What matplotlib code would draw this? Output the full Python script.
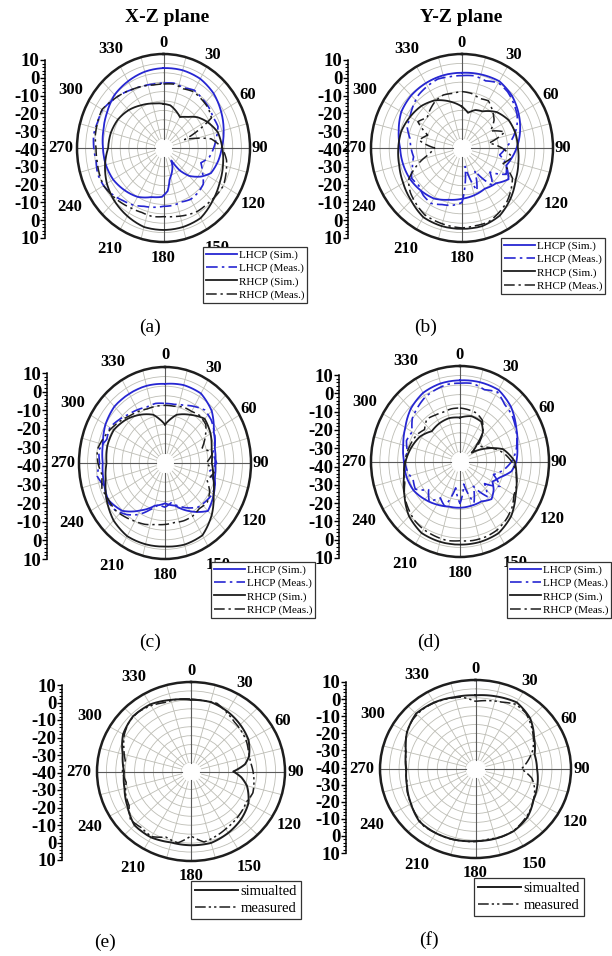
import numpy as np
import matplotlib
matplotlib.use('Agg')
import matplotlib.pyplot as plt
from matplotlib.ticker import MultipleLocator

W, H = 612, 956
SERIF = 'Liberation Serif'

# ---------------- data (dB vs angle in degrees) ----------------
# (a) X-Z plane
A_LS_DEG = [0, 15, 30, 45, 60, 75, 90, 102, 116, 125, 135, 142, 146, 152, 160, 168, 174, 182,
            195, 210, 225, 240, 255, 270, 285, 300, 315, 330, 345]
A_LS_DB = [2.5, 2.8, 2.5, 1, -1.5, -4, -6.3, -7.6, -9.5, -13.5, -19, -25, -32, -29, -26, -23, -17, -14,
           -13, -10, -8.2, -6.4, -5.5, -5, -4, -2.3, 0, 1, 2]
A_LM_DEG = [0, 10, 20, 30, 40, 50, 60, 70, 80, 90, 100, 110, 120, 130, 140, 150, 160, 170, 180,
            190, 200, 210, 220, 230, 240, 250, 260, 270, 280, 290, 300, 310, 320, 330, 340, 350]
A_LM_DB = [-5.5, -5, -6, -4.5, -5.5, -6, -7, -6.5, -9, -11, -13, -17, -14, -10, -9, -8.5, -9.5, -9, -9,
           -8, -7, -5, -3.5, -1.5, 0, 0.5, -0.5, 0.3, 1, 0.5, 0.8, -1, -2.5, -4, -5, -5.5]
A_RS_DEG = [0, 10, 20, 30, 40, 50, 60, 75, 90, 105, 120, 135, 150, 165, 180, 195, 210, 225, 240,
            255, 270, 285, 300, 315, 330, 345]
A_RS_DB = [-16.5, -17, -19, -21, -18.5, -14.5, -11.5, -7.5, -6, -4.4, -2.6, 0, 3, 3.5, 3.6, 3.5, 1.8, 0, -2.2,
           -5, -8, -8.5, -9.6, -11.5, -13.8, -15.5]
A_RM_DEG = [0, 10, 20, 30, 40, 50, 60, 65, 70, 75, 80, 90, 100, 110, 120, 130, 140, 150, 160, 170, 180,
            190, 200, 210, 220, 230, 240, 250, 260, 270, 280, 290, 300, 310, 320, 330, 340, 350]
A_RM_DB = [-6, -5.5, -6.5, -5.4, -6, -6.5, -8, -18, -27, -20, -12, -6, -3, -1.5, 0, -0.5, -1, -1, -2, -3, -3.5,
           -3, -3.5, -3, -2, -1, 0, -0.5, -1, -1, 0, 0.5, 1, -1, -2.5, -4, -5, -6]

# (b) Y-Z plane
B_LS_DEG = [0, 15, 30, 45, 60, 75, 90, 100, 111, 123, 135, 150, 165, 180, 195, 210, 225, 240, 255,
            270, 285, 300, 315, 330, 345]
B_LS_DB = [0, 0.5, 1, -1, -4, -7, -10, -12, -14, -9.5, -13.5, -15, -14, -13, -11.5, -9, -8, -7, -6.5,
           -6, -4, -1.5, -0.5, -0.2, 0]
B_LM_DEG = A_LM_DEG
B_LM_DB = [-1.5, -1, -2, 0, -1, -3, -5, -8, -12, -16, -19, -14, -12, -20, -14, -26, -16, -30, -11,
           -9, -8, -6, -7, -9, -8, -11, -13, -12, -11, -8, -7, -5, -3, -2, -1, -1.5]
B_RS_DEG = [0, 10, 20, 30, 45, 60, 75, 90, 105, 120, 135, 150, 165, 180, 195, 210, 225, 240, 255,
            270, 285, 300, 315, 330, 345]
B_RS_DB = [-18, -21, -18.5, -17.5, -13, -10.4, -9.6, -9.3, -8, -6, -2.2, 1.5, 3, 3, 3, 2.5, -0.5, -2.7, -4.3,
           -5, -5.5, -7, -8.4, -10.7, -14.4]
B_RM_DEG = A_LM_DEG
B_RM_DB = [-10, -10.5, -12, -11, -14, -17, -22, -15, -25, -18, -12, -16, -8, -5, -2, 0, 2, 2, 2.5,
           2, 1.5, 1, -1, -3, -6, -14, -22, -25, -16, -20, -12, -15, -13, -11, -10, -10.5]

# (c) X-Z plane
C_LS_DEG = [0, 15, 30, 45, 60, 75, 90, 105, 120, 135, 150, 165, 180, 195, 210, 225, 240, 255, 270,
            285, 300, 315, 330, 345]
C_LS_DB = [1.2, 2, 1.8, -1.6, -7.3, -10, -10.9, -10, -7.3, -4.7, -11, -17, -19, -17, -11.5, -4.8, -1.8, -3.1, -3.8,
           -2.6, 0, 1.6, 1.6, 1.6]
C_LM_DEG = A_LM_DEG
C_LM_DB = [-9, -9, -8, -6, -4, -5, -7, -9, -12, -10, -14, -9, -8, -9, -10, -13, -16, -19, -17,
           -18, -14, -9, -5, -2, -1, -3, 0, -2, -1, -4, -3, -5, -7, -8, -9, -8.5]
C_RS_DEG = [0, 9, 15, 30, 45, 60, 75, 90, 105, 120, 135, 150, 165, 180, 195, 210, 225, 240, 255,
            270, 285, 300, 315, 330, 345, 351]
C_RS_DB = [-20, -16.5, -14, -11, -7.4, -9.4, -12, -12.8, -11, -7.4, -1.6, 3.5, 4, 3.5, 3.8, 4, 2.3, -0.9, -4.3,
           -6, -5.3, -5.6, -8, -11, -14, -16.5]
C_RM_DEG = A_LM_DEG
C_RM_DB = [-10, -10, -9, -9, -8, -9, -13, -17, -12, -16, -11, -14, -10, -8, -9, -8, -8, -8.5, -8,
           -7.5, -6, -5, -3.5, -2, -2, -1, -3, -1, 0, -2, -4, -6, -8, -9, -10, -10]

# (d) Y-Z plane
D_LS_DEG = [0, 15, 30, 45, 60, 75, 90, 100, 110, 120, 128, 138, 150, 165, 180, 195, 210, 225, 240,
            255, 270, 285, 300, 315, 330, 345]
D_LS_DB = [2.5, 3, 3.3, 0.5, -3.6, -6.7, -8.3, -10.6, -16, -19, -16, -13.5, -15.9, -16, -15.8, -15.6, -14, -12, -9.8,
           -8.9, -8.5, -7, -4.5, -0.9, 1.5, 2.3]
D_LM_DEG = A_LM_DEG
D_LM_DB = [1, 1.5, 0, 2, -1, -2, -4, -6, -8, -11, -15, -20, -14, -22, -16, -25, -17, -28, -18,
           -26, -15, -18, -13, -17, -11, -12, -10, -9, -10, -8, -9, -5, -3, -1, 0, 1]
D_RS_DEG = [0, 15, 30, 40, 47, 55, 65, 75, 90, 105, 120, 135, 150, 165, 180, 195, 210, 225, 240,
            255, 270, 285, 300, 315, 330, 345]
D_RS_DB = [-17, -15.4, -16, -20, -27, -32, -24, -15, -9.2, -7.2, -4, 0.6, 3.3, 3.6, 3.5, 3.5, 3.2, 0.5, -4,
           -7.4, -9.4, -11.7, -14, -17.6, -16.9, -16.5]
D_RM_DEG = A_LM_DEG
D_RM_DB = [-12, -12.5, -13, -15, -20, -27, -25, -20, -15, -11, -8, -6, -5, -2, 0, 1.5, 2, 2, 1.5,
           2, 1.5, 1, 0, -2, -4, -7, -8, -9, -10, -11, -12, -14, -11, -12, -12.5, -12]

# (e) X-Z plane, co-pol only
E_S_DEG = [0, 15, 30, 45, 60, 75, 82, 90, 97, 105, 120, 135, 150, 165, 180, 195, 210, 225, 240,
           255, 270, 285, 300, 315, 330, 345]
E_S_DB = [0, 0.2, -1.3, -3, -4.7, -8.1, -11, -17.5, -13, -9.2, -4.7, -2.3, -0.4, 1.3, 1.2, 1, 2.5, 2.5, -1,
          -3.4, -4.4, -2.4, 1.7, 3.6, 3.3, 1.4]
E_M_DEG = A_LM_DEG
E_M_DB = [0.5, 0, 0.5, -2, -4, -5, -6, -7.5, -8, -7, -6, -5, -6, -5, -4, -3, -1.5, 0, -4,
          0.5, -1, 2, 1, 2, -2, -3, -5, -3.5, -4.5, -2, 1, 3, 3.5, 2.5, 1, 1]

# (f) Y-Z plane, co-pol only
F_S_DEG = [0, 15, 30, 45, 60, 75, 90, 105, 120, 135, 150, 165, 180, 195, 210, 225, 240, 255, 270,
           285, 300, 315, 330, 345]
F_S_DB = [1.4, 2.2, 3.2, 0.4, -4.6, -8, -7.8, -6.4, -5, -1.6, 0.2, 0.5, 0.5, 1.2, 1.6, 1.6, -1, -2.9, -3.8,
          -2.3, 1.4, 4, 3.2, 1.8]
F_M_DEG = A_LM_DEG
F_M_DB = [-2, -1, 0, 2, 1, -2, -5, -8, -12, -16, -10, -7, -5, -3, -1.5, 0, 0.5, 0, 0.8,
          1, 1.5, 1.5, 2, 0.5, -1, -2, -3.5, -3.5, -3, -1, 1.5, 3, 3.5, 3, 2, 1]

THETA_TICKS = [0, 30, 60, 90, 120, 150, 180, 210, 240, 270, 300, 330]
SCALE_LABELS = ['10', '0', '-10', '-20', '-30', '-40', '-30', '-20', '-10', '0', '10']
CP_LABELS = ['LHCP (Sim.)', 'LHCP (Meas.)', 'RHCP (Sim.)', 'RHCP (Meas.)']
CO_LABELS = ['simualted', 'measured']

BLUE = '#2626d2'
BLACK = '#1e1e1e'
DASHDOT = (0, (7, 2.5, 1.5, 2.5))
DASHDOTDOT = (0, (7, 2, 1.5, 2, 1.5, 2))

# radial position of each angle label (dB units, outside the 10 dB ring)
LAB_R = {0: 16, 30: 17, 60: 16.5, 90: 15.5, 120: 20, 150: 21.5, 180: 18.5,
         210: 22, 240: 22.5, 270: 19.5, 300: 22, 330: 21}


def closed(deg, db):
    d = np.deg2rad(np.array(list(deg) + [deg[0] + 360]))
    return d, np.array(list(db) + [db[0]])


def rect(x0, y0, x1, y1):
    return [x0 / W, 1 - y1 / H, (x1 - x0) / W, (y1 - y0) / H]


fig = plt.figure(figsize=(W / 100, H / 100), dpi=100)


def panel(circ, scale_x, scale_y, legend_xy, curves, labels, leg_size, hlen):
    ax = fig.add_axes(rect(*circ), projection='polar')
    ax.set_aspect('auto')
    ax.set_theta_zero_location('N')
    ax.set_theta_direction(-1)
    ax.set_rlim(-40, 10)
    ax.set_yticks(np.arange(-35, 10, 5))
    ax.set_yticklabels([])
    ax.set_xticks(np.deg2rad(np.arange(0, 360, 15)))
    ax.set_xticklabels([])
    ax.tick_params(length=0)
    ax.grid(True, color='#bdbdb5', lw=0.6)
    ax.spines['polar'].set_linewidth(1.8)
    ax.spines['polar'].set_color(BLACK)
    ring = np.linspace(0, 2 * np.pi, 200)
    ax.fill_between(ring, -40, -35, color='white', zorder=1.7)
    for a in (0, 90, 180, 270):
        ax.plot([np.deg2rad(a)] * 2, [-35, 10], color='#5a5a5a', lw=0.8, zorder=1.8)

    handles = []
    for (deg, db, col, ls, lw) in curves:
        t, r = closed(deg, db)
        ln, = ax.plot(t, r, color=col, ls=ls, lw=lw, zorder=3)
        # let the polar transform draw each segment as a smooth arc
        ln.get_path()._interpolation_steps = 24
        handles.append(ln)

    for a in THETA_TICKS:
        ax.text(np.deg2rad(a), LAB_R[a], str(a), ha='center', va='center', fontsize=12,
                fontweight='bold', family=SERIF, clip_on=False)

    # left dB scale
    sy0, sy1 = scale_y
    sax = fig.add_axes(rect(scale_x, sy0, scale_x + 1, sy1))
    sax.set_ylim(-50, 50)
    sax.set_xticks([])
    for s in ('top', 'right', 'bottom'):
        sax.spines[s].set_visible(False)
    sax.spines['left'].set_linewidth(1.1)
    sax.set_yticks(np.arange(50, -51, -10))
    sax.set_yticklabels(SCALE_LABELS, fontsize=13.5, fontweight='bold', family=SERIF)
    sax.yaxis.set_minor_locator(MultipleLocator(2))
    sax.tick_params(axis='y', which='major', length=3.5, width=1, pad=0.5)
    sax.tick_params(axis='y', which='minor', length=2, width=0.8)
    sax.patch.set_alpha(0)

    leg = fig.legend(handles, labels, loc='upper left',
                     bbox_to_anchor=(legend_xy[0] / W, 1 - legend_xy[1] / H),
                     prop={'family': SERIF, 'size': leg_size}, frameon=True, fancybox=False,
                     edgecolor='#333333', framealpha=1, borderpad=0.25, borderaxespad=0,
                     handlelength=hlen, handletextpad=0.15, labelspacing=0.3)
    leg.get_frame().set_linewidth(0.9)
    return ax


def cp_curves(ls_deg, ls_db, lm_deg, lm_db, rs_deg, rs_db, rm_deg, rm_db):
    return [(ls_deg, ls_db, BLUE, '-', 1.3), (lm_deg, lm_db, BLUE, DASHDOT, 1.2),
            (rs_deg, rs_db, BLACK, '-', 1.3), (rm_deg, rm_db, BLACK, DASHDOT, 1.1)]


panel((77, 54, 250, 242), 45, (60, 238), (203, 247),
      cp_curves(A_LS_DEG, A_LS_DB, A_LM_DEG, A_LM_DB, A_RS_DEG, A_RS_DB, A_RM_DEG, A_RM_DB),
      CP_LABELS, 8, 2.8)
panel((371, 54, 553, 242), 348, (60, 238), (501, 238),
      cp_curves(B_LS_DEG, B_LS_DB, B_LM_DEG, B_LM_DB, B_RS_DEG, B_RS_DB, B_RM_DEG, B_RM_DB),
      CP_LABELS, 8, 2.8)
panel((79, 367, 251, 559), 47, (373, 559), (211, 562),
      cp_curves(C_LS_DEG, C_LS_DB, C_LM_DEG, C_LM_DB, C_RS_DEG, C_RS_DB, C_RM_DEG, C_RM_DB),
      CP_LABELS, 8, 2.8)
panel((371, 366, 549, 557), 339, (375, 558), (507, 562),
      cp_curves(D_LS_DEG, D_LS_DB, D_LM_DEG, D_LM_DB, D_RS_DEG, D_RS_DB, D_RM_DEG, D_RM_DB),
      CP_LABELS, 8, 2.8)
panel((97, 682, 285, 861), 62, (685, 860), (191, 881),
      [(E_S_DEG, E_S_DB, BLACK, '-', 1.4), (E_M_DEG, E_M_DB, BLACK, DASHDOTDOT, 1.1)],
      CO_LABELS, 10.5, 3.0)
panel((380, 680, 571, 858), 346, (682, 853), (474, 878),
      [(F_S_DEG, F_S_DB, BLACK, '-', 1.4), (F_M_DEG, F_M_DB, BLACK, DASHDOTDOT, 1.1)],
      CO_LABELS, 10.5, 3.0)

fig.text(167 / W, 1 - 18 / H, 'X-Z plane', ha='center', va='center', fontsize=14,
         fontweight='bold', family=SERIF)
fig.text(461 / W, 1 - 18 / H, 'Y-Z plane', ha='center', va='center', fontsize=14,
         fontweight='bold', family=SERIF)

for s, x, y in [('(a)', 150, 327), ('(b)', 426, 327), ('(c)', 150, 642),
                ('(d)', 429, 642), ('(e)', 105, 942), ('(f)', 429, 940)]:
    fig.text(x / W, 1 - y / H, s, ha='center', va='center', fontsize=14, family=SERIF)

fig.savefig('out.png', dpi=100, facecolor='white')
